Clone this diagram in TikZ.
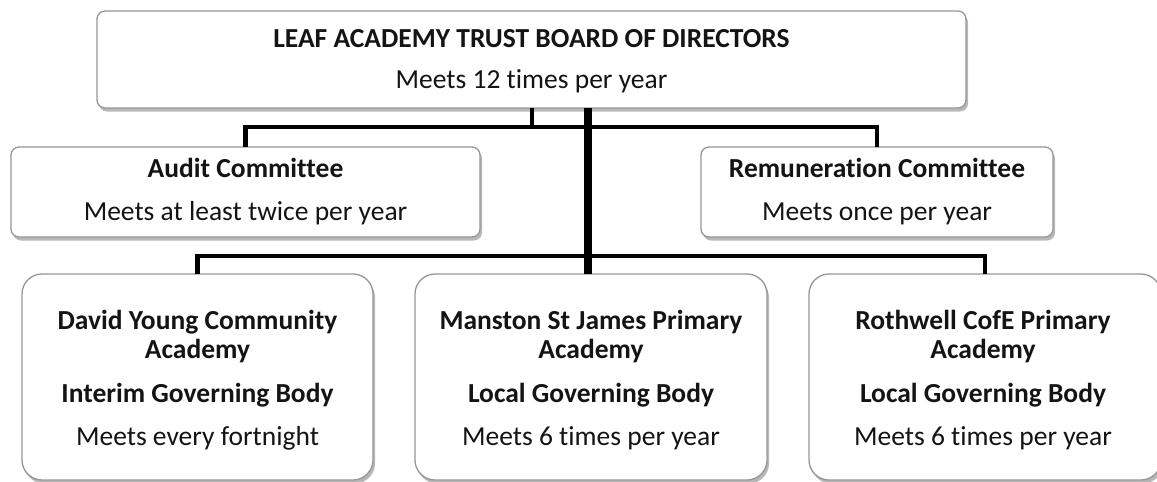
\documentclass[tikz,border=0pt]{standalone}
\usepackage{fontspec}
\setmainfont{Carlito}[Ligatures={NoCommon}]
\usetikzlibrary{shadows}
\definecolor{txt}{RGB}{20,20,20}
\definecolor{edge}{RGB}{150,150,150}
\tikzset{
  boxbase/.style={draw=edge, line width=1.3pt, fill=white, inner sep=0pt, outer sep=0pt,
    drop shadow={shadow xshift=2pt, shadow yshift=-3.5pt, fill=black, opacity=0.28}},
  smallbox/.style={boxbase, rounded corners=8pt},
  bigbox/.style={boxbase, rounded corners=20pt},
  lbl/.style={anchor=base, inner sep=0pt, text=txt, font=\fontsize{27.5}{28}\selectfont},
  blbl/.style={lbl, font=\fontsize{27.5}{28}\selectfont\bfseries},
  conn/.style={line width=4.5pt, line join=miter},
  trunk/.style={line width=7.5pt}
}
\begin{document}
\begin{tikzpicture}[x=1pt,y=-1pt]
\useasboundingbox (0,0) rectangle (1157,482);
% boxes
\node[smallbox, minimum width=869pt, minimum height=97pt] (top) at (531.5,59.5) {};
\node[smallbox, minimum width=469pt, minimum height=90pt] (audit) at (245.5,192) {};
\node[smallbox, minimum width=352pt, minimum height=90pt] (rem) at (877,192) {};
\node[bigbox, minimum width=351pt, minimum height=206pt] (dy) at (197.5,377) {};
\node[bigbox, minimum width=352pt, minimum height=206pt] (ms) at (591,377) {};
\node[bigbox, minimum width=352pt, minimum height=206pt] (rw) at (985,377) {};
% texts
\node[blbl] (topT) at (531.5,47) {LEAF ACADEMY TRUST BOARD OF DIRECTORS};
\node[lbl] (topM) at (531.5,88) {Meets 12 times per year};
\node[blbl] (audT) at (245.5,177) {Audit Committee};
\node[lbl] (audM) at (245.5,220) {Meets at least twice per year};
\node[blbl] (remT) at (877,177) {Remuneration Committee};
\node[lbl] (remM) at (877,220) {Meets once per year};
\node[blbl] (dyA) at (197.5,329) {David Young Community};
\node[blbl] (dyB) at (197.5,358) {Academy};
\node[blbl] (dyC) at (197.5,402) {Interim Governing Body};
\node[lbl]  (dyD) at (197.5,445) {Meets every fortnight};
\node[blbl] (msA) at (591,329) {Manston St James Primary};
\node[blbl] (msB) at (591,358) {Academy};
\node[blbl] (msC) at (591,402) {Local Governing Body};
\node[lbl]  (msD) at (591,445) {Meets 6 times per year};
\node[blbl] (rwA) at (983,329) {Rothwell CofE Primary};
\node[blbl] (rwB) at (983,358) {Academy};
\node[blbl] (rwC) at (983,402) {Local Governing Body};
\node[lbl]  (rwD) at (983,445) {Meets 6 times per year};
% connectors
\coordinate (b1) at (532,127);
\coordinate (b2) at (588,256);
\coordinate (tr) at (588,0);
\draw[conn] (top.south -| b1) -- (b1);
\draw[conn] (audit.north) |- (rem.north |- b1) -- (rem.north);
\draw[conn] (dy.north) |- (rw.north |- b2) -- (rw.north);
\draw[trunk] (top.south -| tr) -- (ms.north -| tr);
\end{tikzpicture}
\end{document}
